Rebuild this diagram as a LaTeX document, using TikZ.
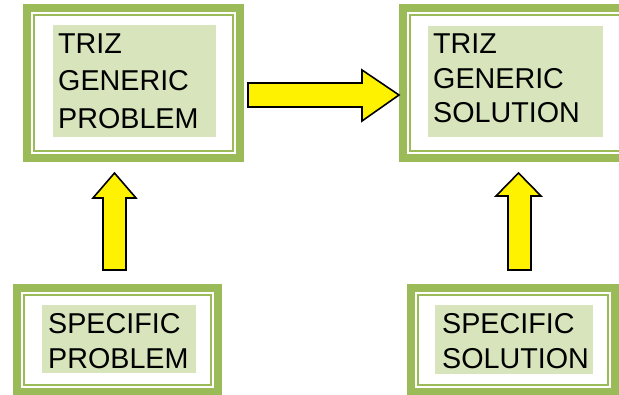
\documentclass[tikz,border=0pt]{standalone}
\usepackage{fontspec}
\setmainfont{Liberation Sans}
\usetikzlibrary{calc}
\definecolor{bandgreen}{HTML}{9BBB59}
\definecolor{bggreen}{HTML}{D7E4BC}
\tikzset{
  band/.style={draw=bandgreen, line width=8pt, inner sep=0pt, outer sep=0pt, fill=white},
  thinline/.style={draw=bandgreen, line width=2.2pt},
  textbg/.style={fill=bggreen, inner sep=0pt, outer sep=0pt},
  label/.style={font=\fontsize{28.7}{34}\selectfont, inner sep=0pt, anchor=base west, text=black},
  blockarrow/.style={draw=black, fill=yellow, line width=1.6pt, line join=miter}
}
\begin{document}
\begin{tikzpicture}[x=1pt,y=-1pt]
\useasboundingbox (0,0) rectangle (619,394);
\clip (0,0) rectangle (619,394);
\fill[white] (0,0) rectangle (619,394);

% boxes
\node[band, minimum width=213pt, minimum height=150pt] (b1) at (133.5,83) {};
\node[band, minimum width=229pt, minimum height=150pt] (b2) at (517.5,83) {};
\node[band, minimum width=201pt, minimum height=104pt] (b3) at (117.5,340) {};
\node[band, minimum width=204pt, minimum height=104pt] (b4) at (513,340) {};
\foreach \b in {b1,b2,b3,b4}
  \draw[thinline] ($(\b.north west)+(7,7)$) rectangle ($(\b.south east)+(-7,-7)$);

% text backgrounds
\node[textbg, minimum width=163pt, minimum height=112pt] (t1) at (134.5,81) {};
\node[textbg, minimum width=175pt, minimum height=111pt] (t2) at (515.5,81.5) {};
\node[textbg, minimum width=154pt, minimum height=68pt] (t3) at (119,339) {};
\node[textbg, minimum width=158pt, minimum height=69pt] (t4) at (514,339.5) {};

% texts
\node[label] (l1a) at (58,53) {TRIZ};
\node[label] (l1b) at (58,90.5) {GENERIC};
\node[label] (l1c) at (58,128) {PROBLEM};
\node[label] (l2a) at (433,53) {TRIZ};
\node[label] (l2b) at (433,88) {GENERIC};
\node[label] (l2c) at (433,122) {SOLUTION};
\node[label] (l3a) at (48,333) {SPECIFIC};
\node[label] (l3b) at (48,368) {PROBLEM};
\node[label] (l4a) at (442,333) {SPECIFIC};
\node[label] (l4b) at (442,368) {SOLUTION};

% block arrows
\draw[blockarrow] (248,83) -- (362,83) -- (362,70) -- (399,95) -- (362,121) -- (362,107) -- (248,107) -- cycle;
\draw[blockarrow] (103,270) -- (103,198) -- (93,198) -- (114.5,173) -- (136,198) -- (126,198) -- (126,270) -- cycle;
\draw[blockarrow] (508,270) -- (508,196) -- (496,196) -- (518.5,173) -- (541,196) -- (531,196) -- (531,270) -- cycle;
\end{tikzpicture}
\end{document}
